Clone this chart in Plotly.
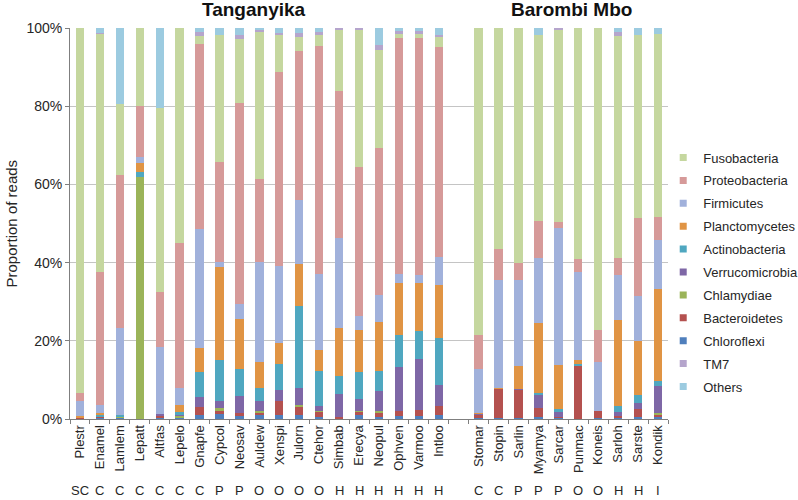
import plotly.graph_objects as go

# ---------------- data ----------------
tanganyika = ["Plestr", "Enamel", "Lamlem", "Lepatt", "Altfas", "Lepelo", "Gnapfe", "Cypcol",
              "Neosav", "Auldew", "Xenspi", "Julorn", "Ctehor", "Simbab", "Erecya", "Neopul",
              "Ophven", "Varmoo", "Intloo"]
tanganyika_diet = ["SC", "C", "C", "C", "C", "C", "C", "P", "P", "O", "O", "O", "O",
                   "H", "H", "H", "H", "H", "H"]
barombi = ["Stomar", "Stopin", "Sarlin", "Myamya", "Sarcar", "Punmac", "Koneis", "Sarloh",
           "Sarste", "Kondik"]
barombi_diet = ["C", "C", "P", "P", "P", "O", "O", "H", "H", "I"]

lake_titles = ["Tanganyika", "Barombi Mbo"]
y_title = "Proportion of reads"

# percentages, Tanganyika bars then Barombi Mbo bars
chloroflexi = [0.1, 0.4, 0.3, 0, 0.2, 0.3, 1.0, 1.3, 0.8, 1.0, 1.0, 1.0, 0.6, 0.2, 1.0, 0.6, 0.8, 0.8, 1.0,
               0.2, 0.2, 0.2, 0.6, 0.3, 0, 0.2, 0.2, 0.6, 0.45]
bacteroidetes = [0.3, 0.1, 0.1, 0, 0.8, 0.2, 2.0, 0.8, 0.8, 0.7, 3.6, 2.0, 1.3, 0.4, 1.0, 1.0, 1.2, 1.5, 2.4,
                 0.9, 7.5, 7.3, 2.3, 0.3, 13.6, 1.9, 0.6, 1.9, 0.6]
chlamydiae = [0, 0, 0.2, 62.0, 0, 0.4, 0, 0.6, 0, 0.3, 0, 0.6, 0.2, 0, 0.1, 0.5, 0, 0, 0,
              0, 0, 0, 0, 0, 0, 0, 0, 0, 0.4]
verrucomicrobia = [0, 0, 0.1, 0, 0.4, 0.2, 2.7, 1.9, 4.3, 2.6, 2.8, 4.4, 1.3, 5.8, 2.9, 5.1, 11.4, 13.0, 5.3,
                   0.2, 0, 0.3, 3.2, 1.3, 0, 0, 1.1, 1.5, 6.95]
actinobacteria = [0.1, 0.6, 0.3, 1.3, 0, 0.6, 6.2, 10.5, 6.8, 3.4, 6.7, 20.9, 9.0, 4.6, 7.1, 5.2, 8.1, 7.2, 12.1,
                  0, 0, 0, 0.6, 0.6, 0.5, 0, 1.3, 2.1, 1.4]
planctomycetes = [0.2, 0.5, 0, 2.3, 0, 1.9, 6.3, 23.9, 12.8, 6.7, 5.3, 10.7, 5.2, 12.2, 10.7, 12.5, 13.2, 12.4, 13.6,
                  0.15, 0.3, 5.8, 17.9, 11.3, 1.0, 0, 22.1, 13.9, 23.4]
firmicutes = [3.9, 2.1, 22.4, 1.5, 17.1, 4.4, 30.3, 1.2, 3.9, 25.5, 19.7, 16.4, 19.5, 23.0, 3.5, 6.8, 2.4, 1.9, 7.1,
              11.25, 27.5, 21.9, 16.7, 35.0, 22.4, 12.6, 11.5, 11.5, 12.6]
proteobacteria = [2.1, 34.0, 39.0, 12.9, 14.1, 37.1, 47.4, 25.6, 51.5, 21.2, 49.7, 38.0, 58.3, 37.8, 38.1, 37.5, 60.3, 60.7, 53.7,
                  8.8, 7.9, 4.3, 9.3, 1.7, 3.4, 8.1, 4.5, 20.0, 5.8]
fusobacteria = [93.3, 60.8, 18.1, 20.0, 46.9, 54.9, 2.1, 32.4, 16.3, 37.5, 9.5, 3.6, 2.8, 15.7, 35.3, 25.3, 1.0, 0.9, 2.4,
                78.5, 56.6, 60.2, 47.6, 49.0, 59.1, 77.2, 56.6, 46.7, 46.9]
tm7 = [0, 0.2, 0, 0, 0, 0, 1.0, 0, 1.0, 0.6, 0.3, 1.0, 0.9, 0.3, 0.3, 1.2, 0.8, 0.8, 0.6,
       0, 0, 0, 0, 0.5, 0, 0, 1.1, 0, 0]
others = [0, 1.3, 19.5, 0, 20.5, 0, 1.0, 1.8, 1.8, 0.5, 1.4, 1.4, 0.9, 0, 0, 4.3, 0.8, 0.8, 1.8,
          0, 0, 0, 1.8, 0, 0, 0, 1.0, 1.8, 1.5]

# stacking order (bottom -> top)
series_names = ["Chloroflexi", "Bacteroidetes", "Chlamydiae", "Verrucomicrobia", "Actinobacteria",
                "Planctomycetes", "Firmicutes", "Proteobacteria", "Fusobacteria", "TM7", "Others"]
series_values = [chloroflexi, bacteroidetes, chlamydiae, verrucomicrobia, actinobacteria,
                 planctomycetes, firmicutes, proteobacteria, fusobacteria, tm7, others]
# legend order (top -> bottom)
legend_order = ["Fusobacteria", "Proteobacteria", "Firmicutes", "Planctomycetes", "Actinobacteria",
                "Verrucomicrobia", "Chlamydiae", "Bacteroidetes", "Chloroflexi", "TM7", "Others"]
colors = {
    "Fusobacteria": "#c5d79f",
    "Proteobacteria": "#d69a99",
    "Firmicutes": "#a1b1db",
    "Planctomycetes": "#e09444",
    "Actinobacteria": "#4fa7c0",
    "Verrucomicrobia": "#7e67a6",
    "Chlamydiae": "#9bb459",
    "Bacteroidetes": "#b4514f",
    "Chloroflexi": "#4f7fbc",
    "TM7": "#b5a5cc",
    "Others": "#9ccbe0",
}

y_ticks = [0, 20, 40, 60, 80, 100]

# ---------------- figure ----------------
GAP = " "
nT = len(tanganyika)
categories = tanganyika + [GAP] + barombi

FONT = "Liberation Sans, Arial, sans-serif"
TXT = "#262626"

fig = go.Figure()
for name, vals in zip(series_names, series_values):
    yv = list(vals[:nT]) + [None] + list(vals[nT:])
    fig.add_trace(go.Bar(
        x=categories, y=yv, name=name, width=0.42,
        marker=dict(color=colors[name], line=dict(width=0)),
        showlegend=False,
    ))

# legend entries with small square markers
for rank, name in enumerate(legend_order):
    fig.add_trace(go.Scatter(
        x=[None], y=[None], mode="markers", name=name,
        marker=dict(symbol="square", size=7, color=colors[name]),
        legendrank=rank + 1, legendgroup=name, showlegend=True,
    ))

annotations = []
# diet letters below category labels
for cat, d in zip(tanganyika + barombi, tanganyika_diet + barombi_diet):
    annotations.append(dict(x=cat, y=-0.183, xref="x", yref="paper", text=d, showarrow=False,
                            font=dict(family=FONT, size=13, color=TXT), xanchor="center", yanchor="middle"))
# lake titles
group_ranges = [(0, nT - 1), (nT + 1, nT + len(barombi))]
title_offsets = [-0.25, 0.15]
for title, (a, b), off in zip(lake_titles, group_ranges, title_offsets):
    annotations.append(dict(x=(a + b) / 2 + off, y=1.047, xref="x", yref="paper", text="<b>%s</b>" % title,
                            showarrow=False, font=dict(family=FONT, size=19, color="#111"),
                            xanchor="center", yanchor="middle"))
# y-axis title
annotations.append(dict(x=-0.097, y=0.5, xref="paper", yref="paper", text=y_title, textangle=-90,
                        showarrow=False, font=dict(family=FONT, size=15, color=TXT),
                        xanchor="center", yanchor="middle"))

fig.update_layout(
    width=798, height=500,
    margin=dict(l=70, r=130, t=28, b=81, autoexpand=False),
    barmode="stack",
    paper_bgcolor="white", plot_bgcolor="white",
    font=dict(family=FONT, size=13, color=TXT),
    annotations=annotations,
    legend=dict(x=0.992, xanchor="left", y=0.707, yanchor="top",
                font=dict(family=FONT, size=13, color=TXT),
                traceorder="grouped", tracegroupgap=3, itemwidth=30,
                bgcolor="rgba(0,0,0,0)"),
)
fig.update_xaxes(
    type="category", categoryorder="array", categoryarray=categories,
    range=[-0.5, len(categories) - 0.5], automargin=False,
    tickangle=-90, tickfont=dict(family=FONT, size=13, color=TXT),
    ticks="outside", tickson="boundaries", ticklen=4, tickcolor="#7f7f7f",
    showline=True, linecolor="#7f7f7f", linewidth=1, showgrid=False,
)
fig.update_yaxes(
    range=[0, 100], tickvals=y_ticks, ticktext=["%d%%" % v for v in y_ticks],
    automargin=False,
    tickfont=dict(family=FONT, size=14, color=TXT),
    ticks="outside", ticklen=4, tickcolor="#7f7f7f",
    showline=True, linecolor="#7f7f7f", linewidth=1,
    showgrid=True, gridcolor="#c4c4c4", gridwidth=1, zeroline=False,
)

fig.write_html("out.html", config={"displayModeBar": False},
               post_script="document.body.style.margin='0';")
